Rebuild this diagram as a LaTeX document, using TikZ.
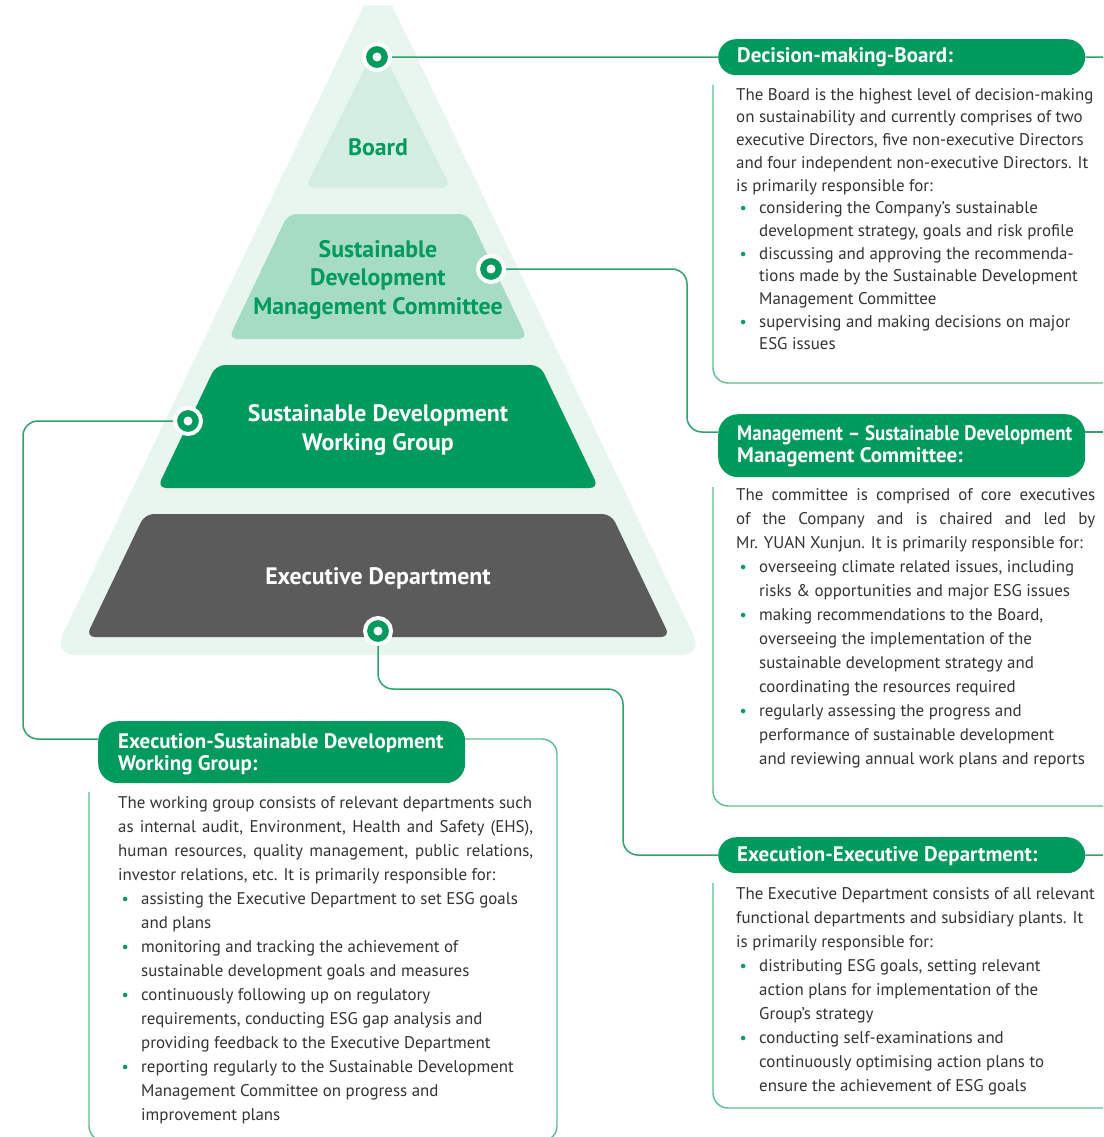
\documentclass[tikz,border=0pt]{standalone}
\usepackage{fontspec}
\usepackage{graphicx}
\setmainfont{PT Sans}
\usetikzlibrary{calc}
\definecolor{gr}{HTML}{009A5D}
\definecolor{conncol}{HTML}{2FA36B}
\definecolor{framecol}{HTML}{5BBC8E}
\definecolor{outerc}{HTML}{E9F6F0}
\definecolor{boardc}{HTML}{D5EEE3}
\definecolor{sdmcc}{HTML}{A6DBC4}
\definecolor{execc}{HTML}{5B5B5B}
\definecolor{txt}{HTML}{333333}
\newcommand\mybul{\makebox[0pt][l]{\hspace{3.5pt}\textcolor{gr}{\fontsize{16}{16}\selectfont\textbullet}}\hspace*{23pt}}
\newcommand\myind{\hspace*{23pt}}
\newcommand\myjust[2]{\makebox[#1][s]{#2}}
\newcommand\firststrut{\rule{0pt}{13pt}}
\tikzset{
  conn/.style={draw=conncol, line width=1.5pt, rounded corners=15pt},
  frameline/.style={draw=framecol, line width=1.4pt, rounded corners=15pt},
  dot/.style={circle, fill=gr, draw=white, line width=4pt, minimum size=26pt, inner sep=0pt,
    path picture={\fill[white] (path picture bounding box.center) circle (4.5pt);}},
  pillbox/.style={fill=gr, anchor=north west, inner sep=0pt, minimum width=367pt},
  htext/.style={text=white, anchor=west, inner sep=0pt, align=left,
    font=\bfseries\fontsize{21}{22}\selectfont},
  body/.style={anchor=north west, inner sep=0pt, align=left, text=txt},
  ptext/.style={font=\bfseries\fontsize{23.8}{28.5}\selectfont, align=center, inner sep=0pt}
}
\begin{document}
\begin{tikzpicture}[x=1pt,y=-1pt]
\useasboundingbox (0,0) rectangle (1103,1137);
\clip (0,0) rectangle (1103,1137);
\fill[white] (0,0) rectangle (1103,1137);

% pyramid
\fill[outerc, rounded corners=22pt] (378,655) -- (703,655) -- (401.5,25.1)
  .. controls (392.1,5.4) and (363.9,5.4) .. (354.5,25.1) -- (53,655) -- cycle;
\fill[boardc, rounded corners=9pt] (378,188) -- (451,188) -- (378,42) -- (305,188) -- cycle;
\fill[sdmcc, rounded corners=9pt] (378,214) -- (468,214) -- (527.5,339) -- (228.5,339) -- (288,214) -- cycle;
\fill[gr, rounded corners=9pt] (378,365) -- (540,365) -- (598.7,488) -- (157.3,488) -- (216,365) -- cycle;
\fill[execc, rounded corners=9pt] (378,514) -- (611.2,514) -- (670,637) -- (86,637) -- (144.8,514) -- cycle;

\node[ptext, text=gr] (tB) at (378,147) {Board};
\node[ptext, text=gr] (tS) at (378,280) {Sustainable\\Development\\Management Committee};
\node[ptext, text=white] (tW) at (378,430) {Sustainable Development\\Working Group};
\node[ptext, text=white] (tE) at (378,578) {Executive Department};

% dots coordinates
\coordinate (cB) at (377,57);
\coordinate (cS) at (491,269);
\coordinate (cW) at (188,421);
\coordinate (cE) at (378,631);

% frames
\draw[frameline] (713,85) -- (713,383) -- (1110,383);
\draw[frameline] (713,487) -- (713,806) -- (1110,806);
\draw[frameline] (713,883) -- (713,1108) -- (1110,1108);
\draw[frameline] (89,792) -- (89,1141) -- (557,1141) -- (557,739) -- (465,739);

% headers
\node[pillbox, minimum height=36pt, rounded corners=18pt] (hB) at (718,39) {};
\node[pillbox, minimum height=63pt, rounded corners=20pt] (hM) at (718,414) {};
\node[pillbox, minimum height=62pt, rounded corners=20pt] (hW) at (98,721) {};
\node[pillbox, minimum height=36pt, rounded corners=18pt] (hE) at (718,837) {};
\node[htext] (lB) at (737,57.5) {Decision-making-Board:};
\node[htext] (lM) at (737,446.5) {\resizebox{335pt}{\height}{Management – Sustainable Development}\\Management Committee:};
\node[htext] (lW) at (118,754.5) {Execution-Sustainable Development\\Working Group:};
\node[htext] (lE) at (737,856.5) {Execution-Executive Department:};

\coordinate (eB) at (1103,57);
\coordinate (eM) at (1103,432);
\coordinate (eE) at (1103,855);

% connectors
\draw[conn] (cB) -- (hB.west);
\draw[conn] (hB.east) -- (eB);
\draw[conn] (cS) -- (687,269) -- (687,432) -- ([yshift=-18pt]hM.north west);
\draw[conn] ([yshift=-18pt]hM.north east) -- (eM);
\draw[conn] (cW) -- (23,421) -- (23,739) -- ([yshift=-18pt]hW.north west);
\draw[conn] (cE) -- (378,689) -- (623,689) -- (623,855) -- (hE.west);
\draw[conn] (hE.east) -- (eE);

% dots
\node[dot] (dB) at (cB) {};
\node[dot] (dS) at (cS) {};
\node[dot] (dW) at (cW) {};
\node[dot] (dE) at (cE) {};

% body texts
\node[body, font=\fontsize{16.9}{22.7}\selectfont] (bB) at (736,87) {%
\firststrut The Board is the highest level of decision-making\\
on sustainability and currently comprises of two\\
executive Directors, five non-executive Directors\\
and four independent non-executive Directors. It\\
is primarily responsible for:\\
\mybul considering the Company’s sustainable\\
\myind development strategy, goals and risk profile\\
\mybul discussing and approving the recommenda-\\
\myind tions made by the Sustainable Development\\
\myind Management Committee\\
\mybul supervising and making decisions on major\\
\myind ESG issues};

\node[body, font=\fontsize{16.9}{24}\selectfont] (bM) at (736,487) {%
\firststrut\myjust{359pt}{The committee is comprised of core executives}\\
\myjust{359pt}{of the Company and is chaired and led by}\\
Mr. YUAN Xunjun. It is primarily responsible for:\\
\mybul overseeing climate related issues, including\\
\myind risks \& opportunities and major ESG issues\\
\mybul making recommendations to the Board,\\
\myind overseeing the implementation of the\\
\myind sustainable development strategy and\\
\myind coordinating the resources required\\
\mybul regularly assessing the progress and\\
\myind performance of sustainable development\\
\myind and reviewing annual work plans and reports};

\node[body, font=\fontsize{16.9}{24}\selectfont] (bW) at (118,795) {%
\firststrut The working group consists of relevant departments such\\
\myjust{415pt}{as internal audit, Environment, Health and Safety (EHS),}\\
\myjust{415pt}{human resources, quality management, public relations,}\\
investor relations, etc. It is primarily responsible for:\\
\mybul assisting the Executive Department to set ESG goals\\
\myind and plans\\
\mybul monitoring and tracking the achievement of\\
\myind sustainable development goals and measures\\
\mybul continuously following up on regulatory\\
\myind requirements, conducting ESG gap analysis and\\
\myind providing feedback to the Executive Department\\
\mybul reporting regularly to the Sustainable Development\\
\myind Management Committee on progress and\\
\myind improvement plans};

\node[body, font=\fontsize{16.9}{24}\selectfont] (bE) at (736,886) {%
\firststrut The Executive Department consists of all relevant\\
functional departments and subsidiary plants. It\\
is primarily responsible for:\\
\mybul distributing ESG goals, setting relevant\\
\myind action plans for implementation of the\\
\myind Group’s strategy\\
\mybul conducting self-examinations and\\
\myind continuously optimising action plans to\\
\myind ensure the achievement of ESG goals};
\end{tikzpicture}
\end{document}
